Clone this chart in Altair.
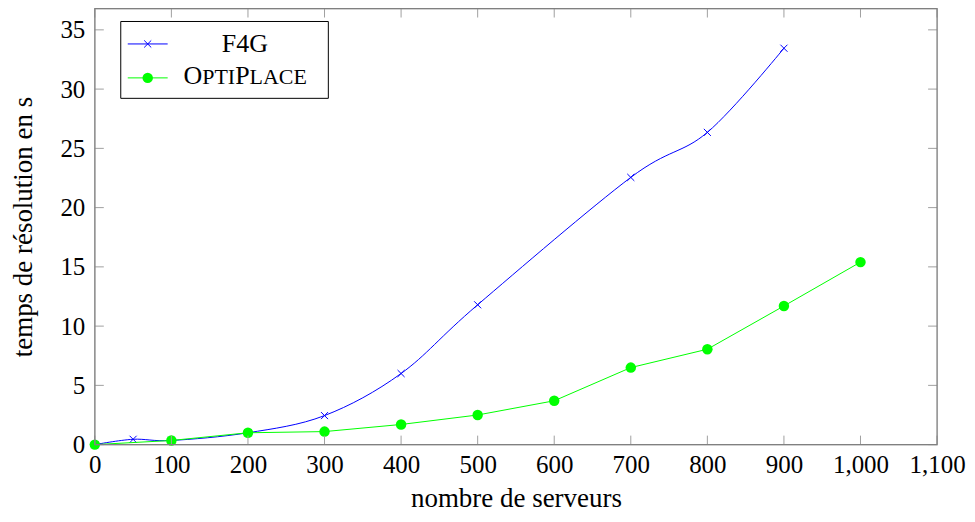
import altair as alt
import pandas as pd

# ---- data ----
f4g_x = [0, 50, 100, 200, 300, 400, 500, 700, 800, 900]
f4g_y = [0.0, 0.45, 0.35, 1.0, 2.45, 6.0, 11.8, 22.55, 26.35, 33.45]
opti_x = [0, 100, 200, 300, 400, 500, 600, 700, 800, 900, 1000]
opti_y = [0.0, 0.35, 1.0, 1.1, 1.7, 2.5, 3.7, 6.5, 8.05, 11.7, 15.4]

x_ticks = list(range(0, 1101, 100))
y_ticks = [0, 5, 10, 15, 20, 25, 30, 35]

x_title = "nombre de serveurs"
y_title = "temps de résolution en s"

W, H = 844, 437
X_DOM = [0, 1100]
Y_DOM = [0, 36.8]
FONT = "'Liberation Serif', 'Times New Roman', 'DejaVu Serif', serif"
BLUE = "#0000ff"
GREEN = "#00ff00"
AXIS_GREY = "#808080"
TICK_GREY = "#a0a0a0"

f4g = pd.DataFrame({"x": f4g_x, "y": f4g_y})
opti = pd.DataFrame({"x": opti_x, "y": opti_y})
xt = pd.DataFrame({"t": x_ticks})
yt = pd.DataFrame({"t": y_ticks})
one = pd.DataFrame({"k": [0]})

xs = alt.Scale(domain=X_DOM, nice=False, zero=False)
ys = alt.Scale(domain=Y_DOM, nice=False, zero=False)

x_axis = alt.Axis(values=x_ticks, format=",d", title=x_title, ticks=False,
                  domain=False, grid=False, labelPadding=8, titlePadding=8,
                  labelFont=FONT, labelFontSize=25, labelColor="black",
                  titleFont=FONT, titleFontSize=27, titleFontWeight="normal",
                  titleColor="black", labelFlush=False)
y_axis = alt.Axis(values=y_ticks, title=y_title, ticks=False, domain=False,
                  grid=False, labelPadding=10, titlePadding=22,
                  labelFont=FONT, labelFontSize=25, labelColor="black",
                  titleFont=FONT, titleFontSize=27, titleFontWeight="normal",
                  titleColor="black", labelFlush=False)

# axes carrier (invisible)
axes = alt.Chart(opti).mark_point(opacity=0).encode(
    x=alt.X("x:Q", scale=xs, axis=x_axis),
    y=alt.Y("y:Q", scale=ys, axis=y_axis),
)

# inward ticks
TL = 9
xt_bot = alt.Chart(xt).mark_rule(color=TICK_GREY, strokeWidth=1).encode(
    x=alt.X("t:Q", scale=xs), y=alt.value(H), y2=alt.value(H - TL))
xt_top = alt.Chart(xt).mark_rule(color=TICK_GREY, strokeWidth=1).encode(
    x=alt.X("t:Q", scale=xs), y=alt.value(0), y2=alt.value(TL))
yt_left = alt.Chart(yt).mark_rule(color=TICK_GREY, strokeWidth=1).encode(
    y=alt.Y("t:Q", scale=ys), x=alt.value(0), x2=alt.value(TL))
yt_right = alt.Chart(yt).mark_rule(color=TICK_GREY, strokeWidth=1).encode(
    y=alt.Y("t:Q", scale=ys), x=alt.value(W), x2=alt.value(W - TL))

f4g_line = alt.Chart(f4g).mark_line(color=BLUE, strokeWidth=1,
                                    interpolate="cardinal").encode(
    x=alt.X("x:Q", scale=xs), y=alt.Y("y:Q", scale=ys))
XSHAPE = "M-1,-1L1,1M-1,1L1,-1"
f4g_pts = alt.Chart(f4g).mark_point(shape=XSHAPE, size=50, color=BLUE,
                                    filled=False, strokeWidth=1, opacity=1).encode(
    x=alt.X("x:Q", scale=xs), y=alt.Y("y:Q", scale=ys))

opti_line = alt.Chart(opti).mark_line(color=GREEN, strokeWidth=1).encode(
    x=alt.X("x:Q", scale=xs), y=alt.Y("y:Q", scale=ys))
opti_pts = alt.Chart(opti).mark_circle(size=110, color=GREEN, opacity=1).encode(
    x=alt.X("x:Q", scale=xs), y=alt.Y("y:Q", scale=ys))

frame = alt.Chart(one).mark_rect(fill=None, stroke=AXIS_GREY, strokeWidth=1.3).encode(
    x=alt.value(0), x2=alt.value(W), y=alt.value(0), y2=alt.value(H))

# ---- legend ----
LX0, LX1, LY0, LY1 = 26, 234, 13, 90
leg_box = alt.Chart(one).mark_rect(fill="white", stroke="black", strokeWidth=1).encode(
    x=alt.value(LX0), x2=alt.value(LX1), y=alt.value(LY0), y2=alt.value(LY1))
R1, R2 = 35.5, 69.5
leg_l1 = alt.Chart(one).mark_rule(color=BLUE, strokeWidth=1).encode(
    x=alt.value(33), x2=alt.value(73), y=alt.value(R1))
leg_p1 = alt.Chart(one).mark_point(shape=XSHAPE, size=50, color=BLUE, filled=False,
                                   strokeWidth=1, opacity=1).encode(
    x=alt.value(53), y=alt.value(R1))
leg_l2 = alt.Chart(one).mark_rule(color=GREEN, strokeWidth=1).encode(
    x=alt.value(33), x2=alt.value(73), y=alt.value(R2))
leg_p2 = alt.Chart(one).mark_circle(size=110, color=GREEN, opacity=1).encode(
    x=alt.value(53), y=alt.value(R2))

def txt(s, x, y, size, align="left"):
    return alt.Chart(one).mark_text(text=s, font=FONT, fontSize=size, align=align,
                                    baseline="alphabetic", color="black").encode(
        x=alt.value(x), y=alt.value(y))

BIG, SMALL = 26, 22
leg_t1 = txt("F4G", 150.3, 43.5, BIG, "center")
b2 = 76
leg_t2 = [txt("O", 88.8, b2, BIG), txt("PTI", 107.6, b2, SMALL),
          txt("P", 140.6, b2, BIG), txt("LACE", 155.1, b2, SMALL)]

chart = alt.layer(
    axes, f4g_line, f4g_pts, opti_line, opti_pts,
    xt_bot, xt_top, yt_left, yt_right, frame,
    leg_box, leg_l1, leg_p1, leg_l2, leg_p2, leg_t1, *leg_t2,
).properties(
    width=W, height=H,
    autosize=alt.AutoSizeParams(type="none"),
    padding={"left": 87, "top": 0, "right": 30, "bottom": 69},
).configure_view(stroke=None).configure(background="white")

chart.save("out.html", embed_options={"renderer": "svg", "actions": False})
